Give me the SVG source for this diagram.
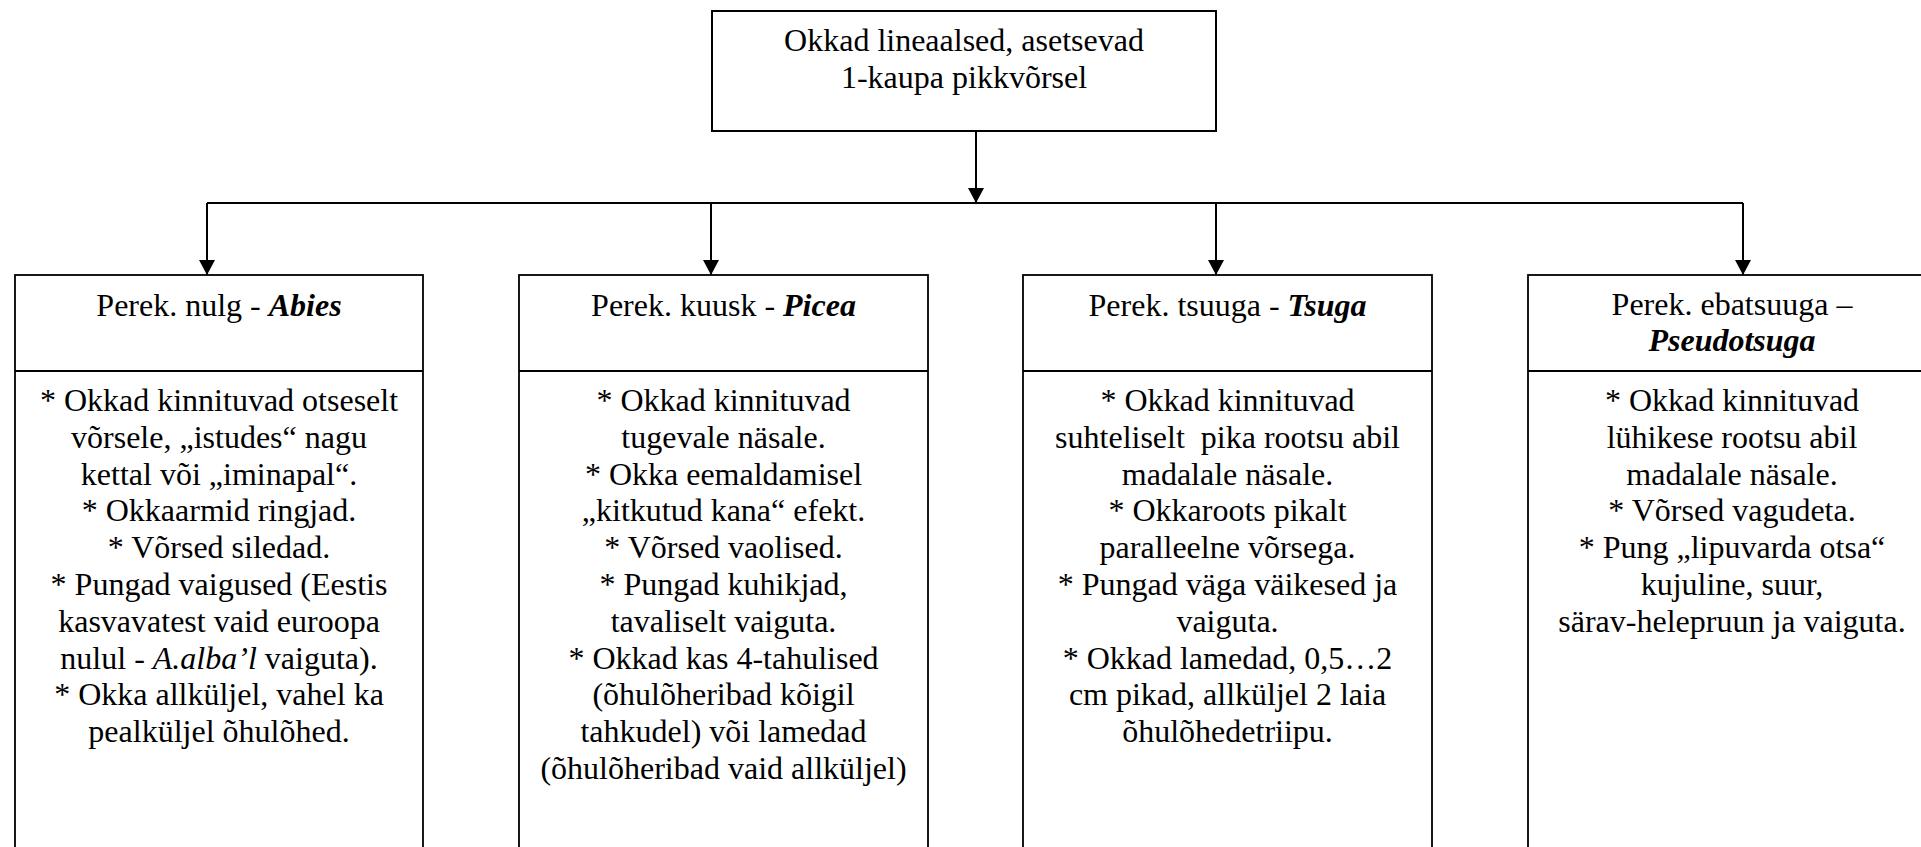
<svg xmlns="http://www.w3.org/2000/svg" width="1921" height="847" viewBox="0 0 1921 847">
  <style>
    .box { fill: #ffffff; stroke: #000000; stroke-width: 1.8; }
    .topbox { fill: #ffffff; stroke: #000000; stroke-width: 2; }
    .div { stroke: #000000; stroke-width: 1.8; }
    .conn { fill: none; stroke: #000000; stroke-width: 2; }
    .t { font-family: "Liberation Serif", "Times New Roman", serif; font-size: 32px; fill: #000000; text-anchor: middle; }
    .bi { font-weight: bold; font-style: italic; }
    .i { font-style: italic; }
  </style>
  <defs>
    <marker id="arrow" viewBox="0 0 15 16" refX="15" refY="8" markerWidth="15" markerHeight="16" markerUnits="userSpaceOnUse" orient="auto">
      <path d="M0,0 L15,8 L0,16 z" fill="#000000"/>
    </marker>
  </defs>
  <rect width="1921" height="847" fill="#ffffff"/>

  <g id="connectors">
    <path class="conn" d="M976,131 L976,203" marker-end="url(#arrow)"/>
    <path class="conn" d="M207,203 L1743,203"/>
    <path class="conn" d="M207,203 L207,275" marker-end="url(#arrow)"/>
    <path class="conn" d="M711,203 L711,275" marker-end="url(#arrow)"/>
    <path class="conn" d="M1216,203 L1216,275" marker-end="url(#arrow)"/>
    <path class="conn" d="M1743,203 L1743,275" marker-end="url(#arrow)"/>
  </g>

  <g id="root">
    <rect class="topbox" x="712" y="11" width="504" height="120"/>
    <text class="t" x="964" y="51">Okkad lineaalsed, asetsevad</text>
    <text class="t" x="964" y="88">1-kaupa pikkvõrsel</text>
  </g>

  <g id="abies">
    <rect class="box" x="15" y="275" width="408" height="620"/>
    <line class="div" x1="15" y1="371" x2="423" y2="371"/>
    <text class="t" x="219" y="316">Perek. nulg - <tspan class="bi">Abies</tspan></text>
    <text class="t" x="219" y="411">* Okkad kinnituvad otseselt</text>
    <text class="t" x="219" y="447.8">võrsele, „istudes“ nagu</text>
    <text class="t" x="219" y="484.6">kettal või „iminapal“.</text>
    <text class="t" x="219" y="521.4">* Okkaarmid ringjad.</text>
    <text class="t" x="219" y="558.2">* Võrsed siledad.</text>
    <text class="t" x="219" y="595">* Pungad vaigused (Eestis</text>
    <text class="t" x="219" y="631.8">kasvavatest vaid euroopa</text>
    <text class="t" x="219" y="668.6">nulul - <tspan class="i">A.alba’l</tspan> vaiguta).</text>
    <text class="t" x="219" y="705.4">* Okka allküljel, vahel ka</text>
    <text class="t" x="219" y="742.2">pealküljel õhulõhed.</text>
  </g>

  <g id="picea">
    <rect class="box" x="519" y="275" width="409" height="620"/>
    <line class="div" x1="519" y1="371" x2="928" y2="371"/>
    <text class="t" x="723.5" y="316">Perek. kuusk - <tspan class="bi">Picea</tspan></text>
    <text class="t" x="723.5" y="411">* Okkad kinnituvad</text>
    <text class="t" x="723.5" y="447.8">tugevale näsale.</text>
    <text class="t" x="723.5" y="484.6">* Okka eemaldamisel</text>
    <text class="t" x="723.5" y="521.4">„kitkutud kana“ efekt.</text>
    <text class="t" x="723.5" y="558.2">* Võrsed vaolised.</text>
    <text class="t" x="723.5" y="595">* Pungad kuhikjad,</text>
    <text class="t" x="723.5" y="631.8">tavaliselt vaiguta.</text>
    <text class="t" x="723.5" y="668.6">* Okkad kas 4-tahulised</text>
    <text class="t" x="723.5" y="705.4">(õhulõheribad kõigil</text>
    <text class="t" x="723.5" y="742.2">tahkudel) või lamedad</text>
    <text class="t" x="723.5" y="779">(õhulõheribad vaid allküljel)</text>
  </g>

  <g id="tsuga">
    <rect class="box" x="1023" y="275" width="409" height="620"/>
    <line class="div" x1="1023" y1="371" x2="1432" y2="371"/>
    <text class="t" x="1227.5" y="316">Perek. tsuuga - <tspan class="bi">Tsuga</tspan></text>
    <text class="t" x="1227.5" y="411">* Okkad kinnituvad</text>
    <text class="t" x="1227.5" y="447.8" xml:space="preserve">suhteliselt  pika rootsu abil</text>
    <text class="t" x="1227.5" y="484.6">madalale näsale.</text>
    <text class="t" x="1227.5" y="521.4">* Okkaroots pikalt</text>
    <text class="t" x="1227.5" y="558.2">paralleelne võrsega.</text>
    <text class="t" x="1227.5" y="595">* Pungad väga väikesed ja</text>
    <text class="t" x="1227.5" y="631.8">vaiguta.</text>
    <text class="t" x="1227.5" y="668.6">* Okkad lamedad, 0,5…2</text>
    <text class="t" x="1227.5" y="705.4">cm pikad, allküljel 2 laia</text>
    <text class="t" x="1227.5" y="742.2">õhulõhedetriipu.</text>
  </g>

  <g id="pseudotsuga">
    <rect class="box" x="1528" y="275" width="408" height="620"/>
    <line class="div" x1="1528" y1="371" x2="1936" y2="371"/>
    <text class="t" x="1732" y="315">Perek. ebatsuuga –</text>
    <text class="t bi" x="1732" y="351">Pseudotsuga</text>
    <text class="t" x="1732" y="411">* Okkad kinnituvad</text>
    <text class="t" x="1732" y="447.8">lühikese rootsu abil</text>
    <text class="t" x="1732" y="484.6">madalale näsale.</text>
    <text class="t" x="1732" y="521.4">* Võrsed vagudeta.</text>
    <text class="t" x="1732" y="558.2">* Pung „lipuvarda otsa“</text>
    <text class="t" x="1732" y="595">kujuline, suur,</text>
    <text class="t" x="1732" y="631.8">särav-helepruun ja vaiguta.</text>
  </g>
</svg>
